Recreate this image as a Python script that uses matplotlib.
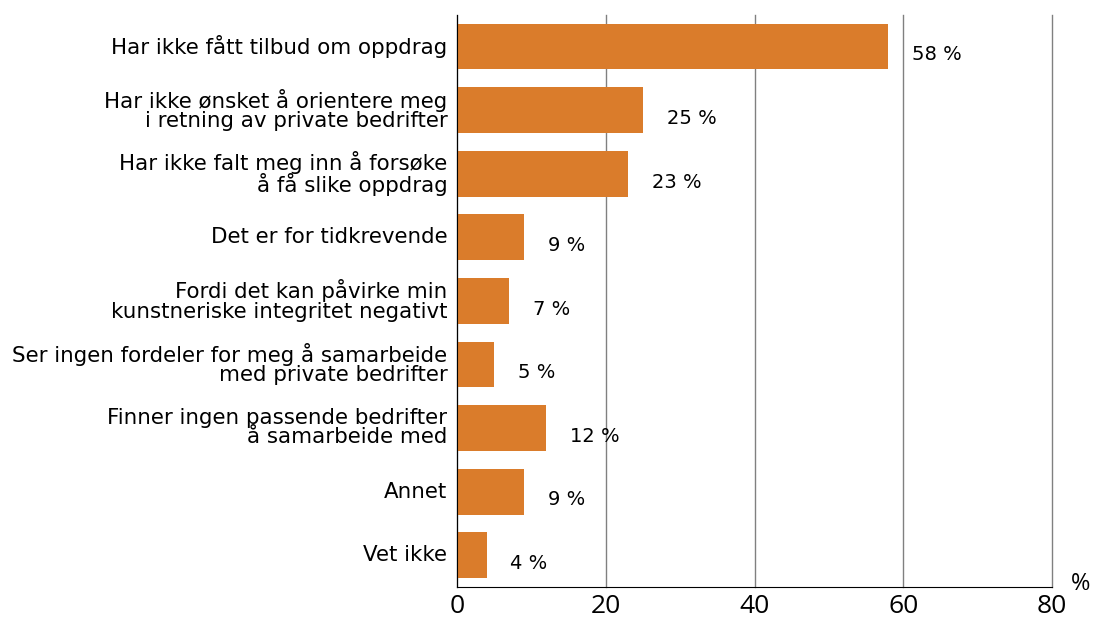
import matplotlib.pyplot as plt
import matplotlib.transforms as mtransforms

categories = [
    "Har ikke fått tilbud om oppdrag",
    "Har ikke ønsket å orientere meg\ni retning av private bedrifter",
    "Har ikke falt meg inn å forsøke\nå få slike oppdrag",
    "Det er for tidkrevende",
    "Fordi det kan påvirke min\nkunstneriske integritet negativt",
    "Ser ingen fordeler for meg å samarbeide\nmed private bedrifter",
    "Finner ingen passende bedrifter\nå samarbeide med",
    "Annet",
    "Vet ikke",
]
values = [58, 25, 23, 9, 7, 5, 12, 9, 4]
xticks = [0, 20, 40, 60, 80]

bar_color = "#DA7C2B"

fig = plt.figure(figsize=(10.96, 6.17), dpi=100)
ax = fig.add_axes([0.417, 0.0486, 0.543, 0.9274])

pos = list(range(len(categories)))
ax.barh(pos, values, height=0.72, color=bar_color, zorder=3)

for p, v in zip(pos, values):
    ax.annotate(f"{v} %", xy=(v, p), xytext=(17, -6), textcoords="offset points",
                ha="left", va="center", fontsize=14, family="DejaVu Sans", zorder=4)

ax.set_ylim(len(categories) - 0.5, -0.5)
ax.set_xlim(0, 80)
ax.set_yticks(pos)
ax.set_yticklabels(categories, fontsize=15.4, family="DejaVu Sans", linespacing=0.95)
ax.set_xticks(xticks)
ax.set_xticklabels([str(t) for t in xticks], fontsize=19, family="Open Sans")
ax.tick_params(axis="both", length=0)
ax.tick_params(axis="y", pad=7)
ax.tick_params(axis="x", pad=5)

# nudge category labels up a touch
shift = mtransforms.ScaledTranslation(0, 1.5 / 72, fig.dpi_scale_trans)
for lbl in ax.get_yticklabels():
    lbl.set_transform(lbl.get_transform() + shift)

ax.grid(axis="x", color="#808080", linewidth=1, zorder=0)
for gl in ax.get_xgridlines():
    gl.set_clip_on(False)
ax.spines["top"].set_visible(False)
ax.spines["right"].set_visible(False)
ax.spines["left"].set_color("black")
ax.spines["bottom"].set_color("black")
ax.spines["left"].set_zorder(5)

ax.text(1.047, 0.005, "%", transform=ax.transAxes, ha="center", va="center",
        fontsize=17, family="Open Sans")

fig.savefig("out.png", dpi=100)
